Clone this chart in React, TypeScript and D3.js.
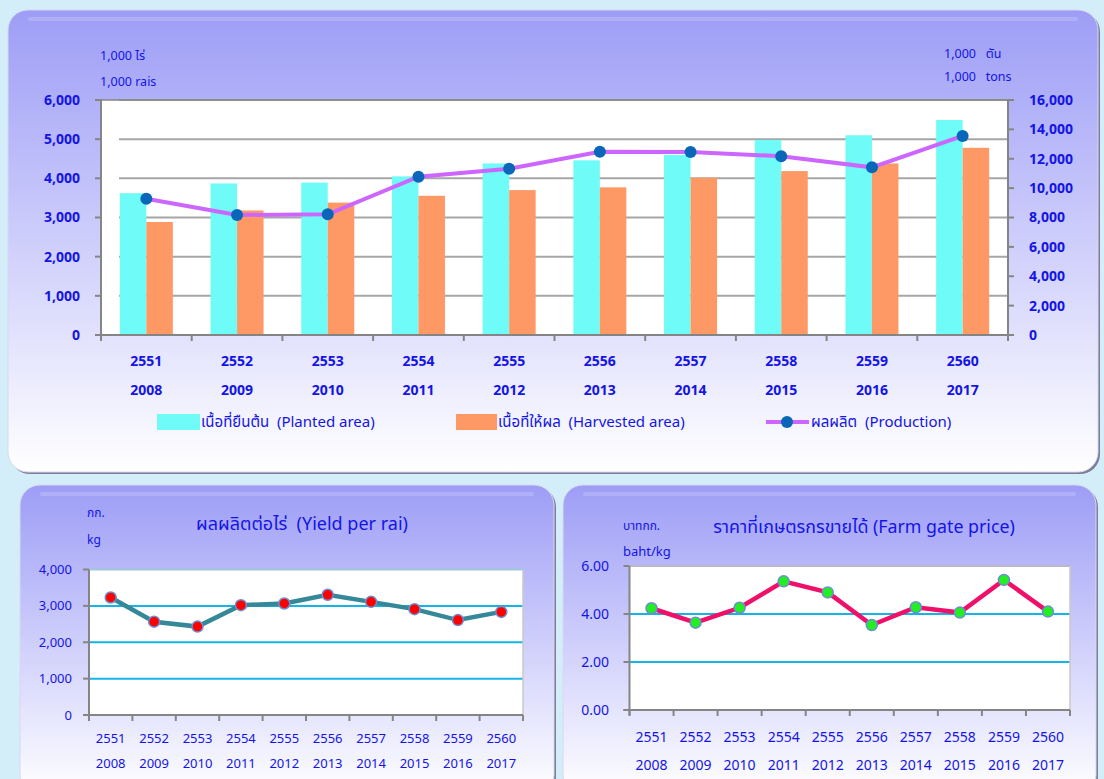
import React from "react";
import * as d3 from "d3";

const thaiYears = ["2551", "2552", "2553", "2554", "2555", "2556", "2557", "2558", "2559", "2560"];
const adYears = ["2008", "2009", "2010", "2011", "2012", "2013", "2014", "2015", "2016", "2017"];
const plantedArea = [3620, 3870, 3890, 4050, 4380, 4460, 4600, 4980, 5100, 5490];
const harvestedArea = [2885, 3180, 3380, 3555, 3700, 3770, 4015, 4185, 4380, 4780];
const production = [9280, 8170, 8215, 10780, 11325, 12470, 12460, 12170, 11415, 13550];
const yieldPerRai = [3230, 2565, 2430, 3020, 3065, 3305, 3110, 2910, 2610, 2835];
const farmPrice = [4.24, 3.64, 4.26, 5.36, 4.9, 3.54, 4.28, 4.06, 5.42, 4.1];
const leftTicks = [0, 1000, 2000, 3000, 4000, 5000, 6000];
const rightTicks = [0, 2000, 4000, 6000, 8000, 10000, 12000, 14000, 16000];
const yieldTicks = [0, 1000, 2000, 3000, 4000];
const priceTicks = [0, 2, 4, 6];

const FONT = "Tahoma, 'Noto Sans', 'Noto Sans Thai', 'DejaVu Sans', sans-serif";
const BLUE = "#1414e6";
const AXIS = "#858585";

function Panel({ x, y, w, h, id, mid }: { x: number; y: number; w: number; h: number; id: string; mid: number }) {
  return (
    <g>
      <defs>
        <linearGradient id={id} x1="0" y1="0" x2="0" y2="1">
          <stop offset="0" stopColor="#9d9df6" />
          <stop offset={mid} stopColor="#c9c9fb" />
          <stop offset="1" stopColor="#ffffff" />
        </linearGradient>
      </defs>
      <rect x={x + 2} y={y + 2} width={w} height={h} rx={20} fill="#7d7d9a" />
      <rect x={x} y={y} width={w} height={h} rx={20} fill={`url(#${id})`} stroke="#d8d8f0" strokeWidth={1} />
      <path d={`M${x + 22},${y + 9} H${x + w - 22}`} stroke="#c4c4fb" strokeWidth={4} strokeLinecap="round" opacity={0.45} />
    </g>
  );
}

export default function App() {
  // ---------- Top chart ----------
  const tx0 = 101, tx1 = 1008, ty0 = 100, ty1 = 335;
  const xTop = d3.scaleBand<string>().domain(thaiYears).range([tx0, tx1]).padding(0);
  const yLeft = d3.scaleLinear().domain([0, 6000]).range([ty1, ty0]);
  const yRight = d3.scaleLinear().domain([0, 16000]).range([ty1, ty0]);
  const cx = (i: number) => (xTop(thaiYears[i]) as number) + xTop.bandwidth() / 2;
  const barW = 26.5;
  const prodLine = d3.line<number>().x((_, i) => cx(i)).y((d) => yRight(d));
  const fmt = d3.format(",");

  // ---------- Bottom left ----------
  const lx0 = 89, lx1 = 523, ly0 = 569.5, ly1 = 715;
  const xL = d3.scaleBand<string>().domain(thaiYears).range([lx0, lx1]);
  const yL = d3.scaleLinear().domain([0, 4000]).range([ly1, ly0]);
  const lcx = (i: number) => (xL(thaiYears[i]) as number) + xL.bandwidth() / 2;
  const yieldLine = d3.line<number>().x((_, i) => lcx(i)).y((d) => yL(d));

  // ---------- Bottom right ----------
  const rx0 = 629.5, rx1 = 1070, ry0 = 566, ry1 = 710;
  const xR = d3.scaleBand<string>().domain(thaiYears).range([rx0, rx1]);
  const yR = d3.scaleLinear().domain([0, 6]).range([ry1, ry0]);
  const rcx = (i: number) => (xR(thaiYears[i]) as number) + xR.bandwidth() / 2;
  const priceLine = d3.line<number>().x((_, i) => rcx(i)).y((d) => yR(d));

  return (
    <svg width={1104} height={779} style={{ position: "absolute", left: 0, top: 0, fontFamily: FONT }}>
      <rect x={0} y={0} width={1104} height={779} fill="#d4eef9" />

      {/* Top panel */}
      <Panel x={8} y={10} w={1090} h={462} id="gTop" mid={0.45} />
      <rect x={tx0} y={ty0} width={tx1 - tx0} height={ty1 - ty0} fill="#ffffff" />
      {leftTicks.slice(1).map((t) => (
        <line key={t} x1={tx0 + 18} x2={tx1} y1={yLeft(t)} y2={yLeft(t)} stroke="#a6a6a6" strokeWidth={2} />
      ))}
      {thaiYears.map((d, i) => (
        <g key={d}>
          <rect x={cx(i) - barW} y={yLeft(plantedArea[i])} width={barW} height={ty1 - yLeft(plantedArea[i])} fill="#6ffbf8" />
          <rect x={cx(i)} y={yLeft(harvestedArea[i])} width={barW} height={ty1 - yLeft(harvestedArea[i])} fill="#fe9966" />
        </g>
      ))}
      <path d={prodLine(production) as string} fill="none" stroke="#cc66ff" strokeWidth={4} />
      {production.map((v, i) => (
        <circle key={i} cx={cx(i)} cy={yRight(v)} r={6} fill="#0a66b8" />
      ))}
      {/* axes */}
      <line x1={tx0} x2={tx0} y1={ty0} y2={ty1 + 6} stroke={AXIS} strokeWidth={2} />
      <line x1={tx1} x2={tx1} y1={ty0} y2={ty1 + 6} stroke={AXIS} strokeWidth={2} />
      <line x1={tx0} x2={tx1} y1={ty0} y2={ty0} stroke={AXIS} strokeWidth={1.5} />
      <line x1={tx0 - 6} x2={tx1 + 6} y1={ty1} y2={ty1} stroke={AXIS} strokeWidth={2} />
      {leftTicks.map((t) => (
        <g key={t}>
          <line x1={tx0 - 6} x2={tx0} y1={yLeft(t)} y2={yLeft(t)} stroke={AXIS} strokeWidth={2} />
          <text x={80} y={yLeft(t)} dy="0.35em" textAnchor="end" fontSize={14} fontWeight="bold" fill={BLUE}>{fmt(t)}</text>
        </g>
      ))}
      {rightTicks.map((t) => (
        <g key={t}>
          <line x1={tx1} x2={tx1 + 6} y1={yRight(t)} y2={yRight(t)} stroke={AXIS} strokeWidth={2} />
          <text x={1029} y={yRight(t)} dy="0.35em" textAnchor="start" fontSize={14} fontWeight="bold" fill={BLUE}>{fmt(t)}</text>
        </g>
      ))}
      {thaiYears.map((d, i) => (
        <g key={d}>
          <line x1={xTop(d) as number} x2={xTop(d) as number} y1={ty1} y2={ty1 + 6} stroke={AXIS} strokeWidth={2} />
          <text x={cx(i)} y={361} dy="0.35em" textAnchor="middle" fontSize={14} fontWeight="bold" fill={BLUE}>{d}</text>
          <text x={cx(i)} y={390} dy="0.35em" textAnchor="middle" fontSize={14} fontWeight="bold" fill={BLUE}>{adYears[i]}</text>
        </g>
      ))}
      <text x={100} y={56} dy="0.35em" fontSize={12.5} fill={BLUE}>1,000 ไร่</text>
      <text x={100} y={82} dy="0.35em" fontSize={12.5} fill={BLUE}>1,000 rais</text>
      <text x={944} y={54} dy="0.35em" fontSize={12.5} fill={BLUE} xmlSpace="preserve">1,000   ตัน</text>
      <text x={944} y={77} dy="0.35em" fontSize={12.5} fill={BLUE} xmlSpace="preserve">1,000   tons</text>
      {/* legend */}
      <rect x={157} y={414} width={43} height={16} fill="#6ffbf8" />
      <text x={201} y={422} dy="0.35em" fontSize={15} fill={BLUE} xmlSpace="preserve">เนื้อที่ยืนต้น  (Planted area)</text>
      <rect x={456} y={414} width={41} height={16} fill="#fe9966" />
      <text x={498} y={422} dy="0.35em" fontSize={15} fill={BLUE} xmlSpace="preserve">เนื้อที่ให้ผล  (Harvested area)</text>
      <line x1={766} x2={809} y1={422} y2={422} stroke="#cc66ff" strokeWidth={4} />
      <circle cx={787} cy={422} r={6} fill="#0a66b8" />
      <text x={811} y={422} dy="0.35em" fontSize={15} fill={BLUE} xmlSpace="preserve">ผลผลิต  (Production)</text>

      {/* Bottom left panel */}
      <Panel x={20} y={485} w={534} h={310} id="gL" mid={0.45} />
      <rect x={lx0} y={ly0} width={lx1 - lx0} height={ly1 - ly0} fill="#ffffff" />
      {yieldTicks.slice(1, -1).map((t) => (
        <line key={t} x1={lx0} x2={lx1} y1={yL(t)} y2={yL(t)} stroke="#14b4e6" strokeWidth={2} />
      ))}
      <line x1={lx0} x2={lx1} y1={ly0} y2={ly0} stroke="#9cc8d8" strokeWidth={2} />
      <line x1={lx1} x2={lx1} y1={ly0} y2={ly1} stroke="#c8c8c8" strokeWidth={1.5} />
      <line x1={lx0} x2={lx0} y1={ly0} y2={ly1 + 5} stroke={AXIS} strokeWidth={2} />
      <line x1={lx0 - 6} x2={lx1} y1={ly1} y2={ly1} stroke={AXIS} strokeWidth={2} />
      {yieldTicks.map((t) => (
        <g key={t}>
          <line x1={lx0 - 6} x2={lx0} y1={yL(t)} y2={yL(t)} stroke={AXIS} strokeWidth={2} />
          <text x={72} y={yL(t)} dy="0.35em" textAnchor="end" fontSize={13} fill={BLUE}>{fmt(t)}</text>
        </g>
      ))}
      {thaiYears.map((d, i) => (
        <g key={d}>
          <line x1={(xL(d) as number)} x2={(xL(d) as number)} y1={ly1} y2={ly1 + 6} stroke={AXIS} strokeWidth={2} />
          <text x={lcx(i)} y={738} dy="0.35em" textAnchor="middle" fontSize={13} fill={BLUE}>{d}</text>
          <text x={lcx(i)} y={763} dy="0.35em" textAnchor="middle" fontSize={13} fill={BLUE}>{adYears[i]}</text>
        </g>
      ))}
      <line x1={lx1} x2={lx1} y1={ly1} y2={ly1 + 6} stroke={AXIS} strokeWidth={2} />
      <path d={yieldLine(yieldPerRai) as string} fill="none" stroke="#348898" strokeWidth={4.5} />
      {yieldPerRai.map((v, i) => (
        <circle key={i} cx={lcx(i)} cy={yL(v)} r={5.5} fill="#ff0000" stroke="#6d8fd0" strokeWidth={1.5} />
      ))}
      <text x={87} y={513} dy="0.35em" fontSize={12} fill={BLUE}>กก.</text>
      <text x={87} y={540} dy="0.35em" fontSize={12} fill={BLUE}>kg</text>
      <text x={302} y={524} dy="0.35em" textAnchor="middle" fontSize={18} fill={BLUE} xmlSpace="preserve">ผลผลิตต่อไร่  (Yield per rai)</text>

      {/* Bottom right panel */}
      <Panel x={563} y={485} w={533} h={310} id="gR" mid={0.45} />
      <rect x={rx0} y={ry0} width={rx1 - rx0} height={ry1 - ry0} fill="#ffffff" />
      {priceTicks.slice(1, -1).map((t) => (
        <line key={t} x1={rx0} x2={rx1} y1={yR(t)} y2={yR(t)} stroke="#14b4e6" strokeWidth={2} />
      ))}
      <line x1={rx0} x2={rx1} y1={ry0} y2={ry0} stroke="#b8b8c8" strokeWidth={2} />
      <line x1={rx1} x2={rx1} y1={ry0} y2={ry1} stroke="#c8c8c8" strokeWidth={1.5} />
      <line x1={rx0} x2={rx0} y1={ry0} y2={ry1 + 5} stroke={AXIS} strokeWidth={2} />
      <line x1={rx0 - 6} x2={rx1} y1={ry1} y2={ry1} stroke={AXIS} strokeWidth={2} />
      {priceTicks.map((t) => (
        <g key={t}>
          <line x1={rx0 - 6} x2={rx0} y1={yR(t)} y2={yR(t)} stroke={AXIS} strokeWidth={2} />
          <text x={609} y={yR(t)} dy="0.35em" textAnchor="end" fontSize={14} fill={BLUE}>{t.toFixed(2)}</text>
        </g>
      ))}
      {thaiYears.map((d, i) => (
        <g key={d}>
          <line x1={(xR(d) as number)} x2={(xR(d) as number)} y1={ry1} y2={ry1 + 6} stroke={AXIS} strokeWidth={2} />
          <text x={rcx(i)} y={737} dy="0.35em" textAnchor="middle" fontSize={14} fill={BLUE}>{d}</text>
          <text x={rcx(i)} y={765} dy="0.35em" textAnchor="middle" fontSize={14} fill={BLUE}>{adYears[i]}</text>
        </g>
      ))}
      <line x1={rx1} x2={rx1} y1={ry1} y2={ry1 + 6} stroke={AXIS} strokeWidth={2} />
      <path d={priceLine(farmPrice) as string} fill="none" stroke="#f0106a" strokeWidth={4.5} />
      {farmPrice.map((v, i) => (
        <circle key={i} cx={rcx(i)} cy={yR(v)} r={5.5} fill="#22ee22" stroke="#6d8fd0" strokeWidth={1.5} />
      ))}
      <text x={623} y={526} dy="0.35em" fontSize={12} fill={BLUE}>บาทกก.</text>
      <text x={623} y={551} dy="0.35em" fontSize={13} fill={BLUE}>baht/kg</text>
      <text x={864} y={527} dy="0.35em" textAnchor="middle" fontSize={17.8} fill={BLUE}>ราคาที่เกษตรกรขายได้ (Farm gate price)</text>
    </svg>
  );
}
